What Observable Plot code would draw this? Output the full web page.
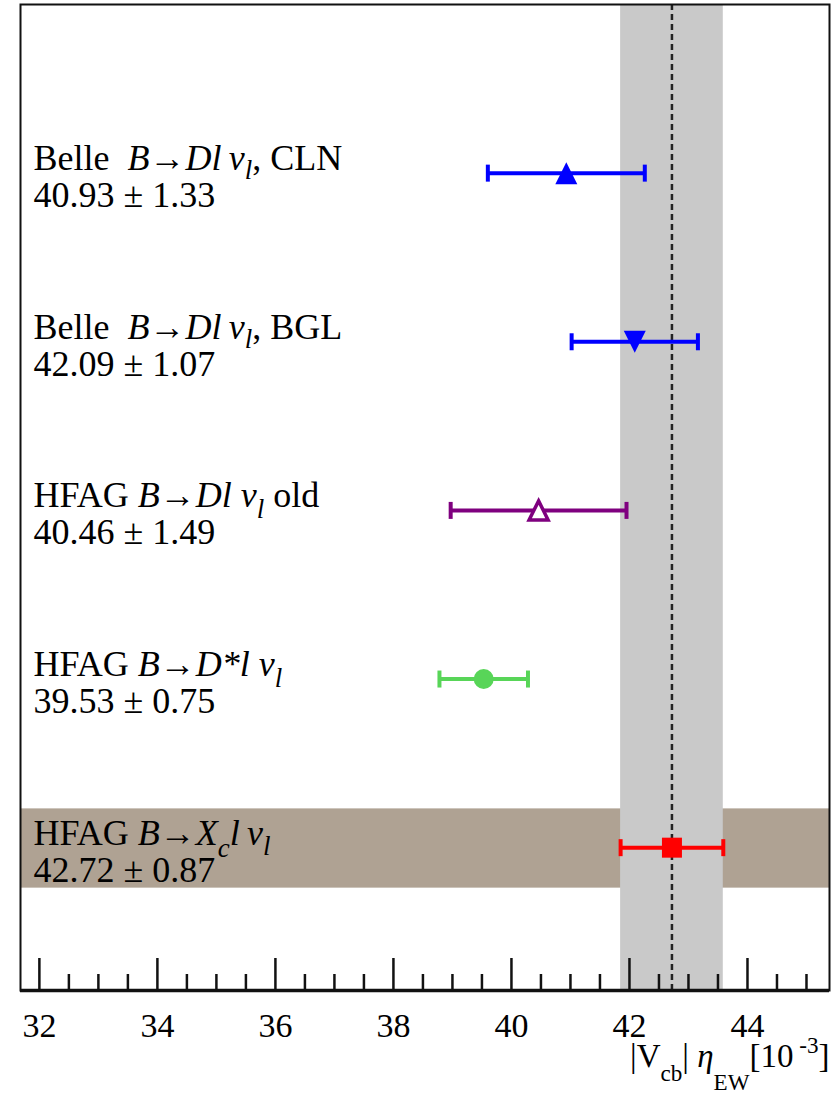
<!DOCTYPE html>
<html>
<head>
<meta charset="utf-8">
<script src="https://cdn.jsdelivr.net/npm/d3@7"></script>
<script src="https://cdn.jsdelivr.net/npm/@observablehq/plot@0.6"></script>
<style>
  body { margin: 0; background: #fff; }
  svg { display: block; }
</style>
</head>
<body>
<div id="chart"></div>
<script>
// |Vcb| determinations, top to bottom
const rows    = [5, 4, 3, 2, 1];
const values  = [40.93, 42.09, 40.46, 39.53, 42.72];
const errors  = [1.33, 1.07, 1.49, 0.75, 0.87];
const colors  = ["#0000ff", "#0000ff", "#7f007f", "#58d558", "#ff0000"];
const markers = ["triangleUp", "triangleDown", "triangleOpen", "circle", "square"];

// Row titles as rich-text segments: t = text, i = italic, s = size factor, b = baseline shift (em)
const titles = [
  [{t: "Belle\u2002"}, {t: "B", i: 1}, {t: "\u2192"}, {t: "Dl", i: 1}, {t: "\u2009\u03bd", i: 1}, {t: "l", i: 1, s: 0.75, b: 0.25}, {t: ", CLN"}],
  [{t: "Belle\u2002"}, {t: "B", i: 1}, {t: "\u2192"}, {t: "Dl", i: 1}, {t: "\u2009\u03bd", i: 1}, {t: "l", i: 1, s: 0.75, b: 0.25}, {t: ", BGL"}],
  [{t: "HFAG "}, {t: "B", i: 1}, {t: "\u2192"}, {t: "Dl", i: 1}, {t: " \u03bd", i: 1}, {t: "l", i: 1, s: 0.75, b: 0.3}, {t: " old"}],
  [{t: "HFAG "}, {t: "B", i: 1}, {t: "\u2192"}, {t: "D*l", i: 1}, {t: " \u03bd", i: 1}, {t: "l", i: 1, s: 0.75, b: 0.3}],
  [{t: "HFAG "}, {t: "B", i: 1}, {t: "\u2192"}, {t: "X", i: 1}, {t: "c", i: 1, s: 0.75, b: 0.35}, {t: "l\u2009\u03bd", i: 1}, {t: "l", i: 1, s: 0.75, b: 0.3}]
];

// Average and its uncertainty band
const average = 42.72;
const averageError = 0.87;
// vertical extent of the highlighted inclusive row
const highlightRow = [0.76, 1.23];

const majorTicks = [32, 34, 36, 38, 40, 42, 44];
const minorTicks = [32.5, 33, 33.5, 34.5, 35, 35.5, 36.5, 37, 37.5, 38.5, 39, 39.5,
                    40.5, 41, 41.5, 42.5, 43, 43.5, 44.5, 45];
const xDomain = [31.68, 45.39];
const yDomain = [0.153, 6];

const axisTitle = [{t: "|V"}, {t: "cb", s: 0.7, b: 0.45}, {t: "| "}, {t: "\u03b7", i: 1},
                   {t: "EW", s: 0.7, b: 0.72}, {t: "[10"}, {t: " -3", s: 0.7, b: -0.4}, {t: "]"}];

const labelSize = 36;
const titleSize = 33;

const data = rows.map((row, i) => ({
  row, value: values[i], error: errors[i], color: colors[i], marker: markers[i],
  label: titles[i].map(d => d.t).join(""),
  result: `${values[i].toFixed(2)} \u00b1 ${errors[i].toFixed(2)}`
}));

// custom symbols sized from the dot radius
const sym = fn => ({draw(ctx, size) { fn(ctx, Math.sqrt(size / Math.PI)); }});
const symbols = {
  triangleUp:   sym((c, r) => { c.moveTo(0, -r); c.lineTo(r, r); c.lineTo(-r, r); c.closePath(); }),
  triangleDown: sym((c, r) => { c.moveTo(0, r); c.lineTo(r, -r); c.lineTo(-r, -r); c.closePath(); }),
  triangleOpen: sym((c, r) => { c.moveTo(0, -r); c.lineTo(r, r); c.lineTo(-r, r); c.closePath(); }),
  square:       sym((c, r) => { c.rect(-r, -r, 2 * r, 2 * r); }),
  circle:       "circle"
};
const capSymbol = sym((c, r) => { c.moveTo(0, -r); c.lineTo(0, r); });

const font = "'Liberation Serif', 'Times New Roman', serif";
const frameHeight = 1097 - 4 - 107;

const markerMarks = data.map(d => {
  const open = d.marker === "triangleOpen";
  return Plot.dot([d], {
    x: "value", y: "row",
    symbol: symbols[d.marker],
    r: d.marker === "circle" ? 10 : open ? 9.5 : d.marker === "square" ? 10 : 11,
    fill: open ? "white" : d.color,
    stroke: open ? d.color : "none",
    strokeWidth: open ? 3.5 : 0
  });
});

const plot = Plot.plot({
  width: 835,
  height: 1097,
  marginLeft: 20,
  marginRight: 6,
  marginTop: 4,
  marginBottom: 107,
  x: {domain: xDomain},
  y: {domain: yDomain, axis: null},
  color: {type: "identity"},
  style: {fontFamily: font, background: "white", color: "black"},
  marks: [
    Plot.rect([highlightRow], {x1: xDomain[0], x2: xDomain[1], y1: d => d[0], y2: d => d[1], fill: "#afa293"}),
    Plot.rect([average], {x1: d => d - averageError, x2: d => d + averageError, y1: yDomain[0], y2: yDomain[1], fill: "#c9c9c9"}),
    Plot.ruleX([average], {stroke: "#222", strokeWidth: 2.5, strokeDasharray: "6,4"}),
    Plot.ruleX(majorTicks, {insetTop: frameHeight - 32, stroke: "#111", strokeWidth: 2.5}),
    Plot.ruleX(minorTicks, {insetTop: frameHeight - 16, stroke: "#111", strokeWidth: 2.5}),
    Plot.frame({stroke: "#111", strokeWidth: 2}),
    Plot.ruleY([yDomain[0]], {stroke: "#111", strokeWidth: 3.5}),
    Plot.axisX({ticks: majorTicks, tickSize: 0, tickPadding: 22, fontSize: 34, label: null, tickFormat: d => `${d}`, fontFamily: font}),
    Plot.ruleY(data, {y: "row", x1: d => d.value - d.error, x2: d => d.value + d.error, stroke: "color", strokeWidth: 4}),
    Plot.dot(data, {x: d => d.value - d.error, y: "row", symbol: capSymbol, r: 8.5, stroke: "color", strokeWidth: 4, fill: "none"}),
    Plot.dot(data, {x: d => d.value + d.error, y: "row", symbol: capSymbol, r: 8.5, stroke: "color", strokeWidth: 4, fill: "none"}),
    ...markerMarks,
    Plot.text(data, {y: "row", text: "label", frameAnchor: "left", dx: 13, dy: -3, textAnchor: "start", lineAnchor: "bottom",
                     fontSize: labelSize, fontFamily: font, fill: "black", className: "row-title"}),
    Plot.text(data, {y: "row", text: "result", frameAnchor: "left", dx: 13, dy: 34, textAnchor: "start", lineAnchor: "bottom",
                     fontSize: labelSize, fontFamily: font, fill: "black"}),
    Plot.text([axisTitle.map(d => d.t).join("")], {frameAnchor: "bottom-right", dy: 76, textAnchor: "end", lineAnchor: "bottom",
                     fontSize: titleSize, fontFamily: font, fill: "black", className: "axis-title"})
  ]
});

// rebuild a text element from rich segments (italics, sub- and superscripts)
function richText(el, segs, size) {
  const t = d3.select(el);
  t.text(null).attr("xml:space", "preserve").style("white-space", "pre");
  let shift = 0;
  for (const seg of segs) {
    const ts = t.append("tspan").text(seg.t);
    if (seg.i) ts.attr("font-style", "italic");
    if (seg.s) ts.attr("font-size", size * seg.s);
    const target = (seg.b || 0) * size;
    if (target !== shift) ts.attr("dy", target - shift);
    shift = target;
  }
}

const svg = d3.select(plot);
svg.selectAll(".row-title text").each(function(_, i) { richText(this, titles[i], labelSize); });
svg.selectAll(".axis-title text").each(function() { richText(this, axisTitle, titleSize); });

document.getElementById("chart").append(plot);
</script>
</body>
</html>
